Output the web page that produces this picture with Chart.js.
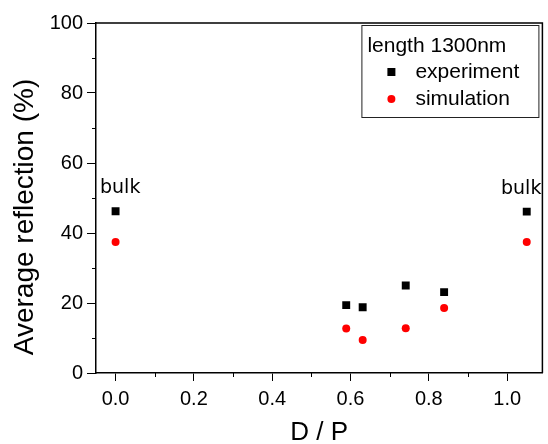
<!DOCTYPE html>
<html lang="en">
<head>
<meta charset="UTF-8">
<title>Average reflection vs D/P</title>
<script src="https://cdn.jsdelivr.net/npm/chart.js"></script>
<style>
  html, body { margin: 0; padding: 0; background: #fff; overflow: hidden; }
</style>
</head>
<body>
<canvas id="grafica" width="548" height="444"></canvas>
<script>
// values
const dpValues = [0, 0.589, 0.631, 0.741, 0.839, 1.05];
const experiment = [46.2, 19.4, 18.8, 25.0, 23.1, 46.1];
const simulation = [37.4, 12.7, 9.4, 12.8, 18.6, 37.4];
const seriesNames = ['experiment', 'simulation'];
const legendTitle = 'length 1300nm';
const yTitle = 'Average reflection (%)';
const bulkIndex = [0, 5];
const bulkText = 'bulk';
const xTicks = [0, 0.1, 0.2, 0.3, 0.4, 0.5, 0.6, 0.7, 0.8, 0.9, 1.0];
const yTicks = [0, 10, 20, 30, 40, 50, 60, 70, 80, 90, 100];

const FONT = "'Liberation Sans', Arial, sans-serif";
const isMajorX = v => Math.round(v * 10) % 2 === 0;
const isMajorY = v => Math.round(v) % 20 === 0;

function pts(ys) {
    return dpValues.map((x, i) => ({ x: x, y: ys[i] }));
}

const extras = {
    id: 'extras',
    afterDraw(chart) {
        const c = chart.ctx;
        const a = chart.chartArea;
        const sx = chart.scales.x, sy = chart.scales.y;
        c.save();
        c.strokeStyle = '#000';
        c.lineWidth = 1.5;
        // top and right frame
        c.beginPath();
        c.moveTo(a.left, a.top);
        c.lineTo(a.right, a.top);
        c.lineTo(a.right, a.bottom);
        c.stroke();

        // minor ticks
        c.lineWidth = 1;
        c.beginPath();
        xTicks.filter(v => !isMajorX(v)).forEach(v => {
            const px = Math.round(sx.getPixelForValue(v)) + 0.5;
            c.moveTo(px, a.bottom);
            c.lineTo(px, a.bottom + 4);
        });
        yTicks.filter(v => !isMajorY(v)).forEach(v => {
            const py = Math.round(sy.getPixelForValue(v)) + 0.5;
            c.moveTo(a.left, py);
            c.lineTo(a.left - 4, py);
        });
        c.stroke();

        // y axis title
        c.fillStyle = '#000';
        c.save();
        c.translate(25, (a.top + a.bottom) / 2 + 19);
        c.rotate(-Math.PI / 2);
        c.font = '28px ' + FONT;
        c.textAlign = 'center';
        c.textBaseline = 'middle';
        c.fillText(yTitle, 0, 0);
        c.restore();

        // "bulk" labels, kept inside the frame
        c.font = "19px 'DejaVu Sans', sans-serif";
        c.textAlign = 'left';
        c.textBaseline = 'alphabetic';
        bulkIndex.forEach(i => {
            const px = sx.getPixelForValue(dpValues[i]);
            const py = sy.getPixelForValue(experiment[i]);
            const w = c.measureText(bulkText).width;
            let left = px - w / 2;
            left = Math.max(left, a.left + 4);
            left = Math.min(left, a.right - 1 - w);
            c.fillText(bulkText, left, py - 18);
        });

        // legend box
        const bx = a.right - 181, by = a.top + 2, bw = 177, bh = 92;
        c.lineWidth = 1;
        c.strokeStyle = '#222';
        c.fillStyle = '#fff';
        c.fillRect(bx, by, bw, bh);
        c.strokeRect(bx + 0.5, by + 0.5, bw, bh);
        c.fillStyle = '#000';
        c.textAlign = 'left';
        c.textBaseline = 'middle';
        c.font = '21px ' + FONT;
        c.fillText(legendTitle, bx + 6, by + 21);
        chart.data.datasets.forEach((ds, k) => {
            const ry = by + 47 + k * 27;
            c.fillStyle = ds.backgroundColor;
            if (ds.pointStyle === 'rect') {
                c.fillRect(bx + 26, ry - 4, 8, 8);
            } else {
                c.beginPath();
                c.arc(bx + 30, ry, 4, 0, Math.PI * 2);
                c.fill();
            }
            c.fillStyle = '#000';
            c.fillText(ds.label, bx + 54, ry);
        });
        c.restore();
    }
};

new Chart(document.getElementById('grafica').getContext('2d'), {
    type: 'scatter',
    data: {
        datasets: [
            {
                label: seriesNames[0],
                data: pts(experiment),
                pointStyle: 'rect',
                pointRadius: 5.6,
                borderWidth: 0,
                backgroundColor: '#000000',
                borderColor: '#000000'
            },
            {
                label: seriesNames[1],
                data: pts(simulation),
                pointStyle: 'circle',
                pointRadius: 4,
                borderWidth: 0,
                backgroundColor: '#ff0000',
                borderColor: '#ff0000'
            }
        ]
    },
    options: {
        responsive: false,
        devicePixelRatio: 1,
        animation: false,
        layout: { padding: { top: 23, right: 1, left: 0, bottom: 0 } },
        plugins: {
            legend: { display: false },
            tooltip: { enabled: false }
        },
        scales: {
            x: {
                type: 'linear',
                min: -0.05,
                max: 1.09,
                afterBuildTicks: s => { s.ticks = xTicks.map(v => ({ value: v })); },
                afterFit: s => { s.height = 71; },
                ticks: {
                    autoSkip: false,
                    maxRotation: 0,
                    padding: 6,
                    color: '#000',
                    font: { family: FONT, size: 20 },
                    callback: v => isMajorX(v) ? v.toFixed(1) : ''
                },
                grid: {
                    drawOnChartArea: false,
                    tickLength: 8,
                    tickWidth: 1,
                    tickColor: ctx => isMajorX(ctx.tick.value) ? '#000' : 'rgba(0,0,0,0)'
                },
                border: { color: '#000', width: 1.5 },
                title: {
                    display: true,
                    text: 'D / P',
                    color: '#000',
                    font: { family: FONT, size: 26, lineHeight: 1 },
                    padding: { top: 0, bottom: -2 }
                }
            },
            y: {
                type: 'linear',
                min: 0,
                max: 100,
                afterBuildTicks: s => { s.ticks = yTicks.map(v => ({ value: v })); },
                afterFit: s => { s.width = 96; },
                ticks: {
                    autoSkip: false,
                    padding: 4,
                    color: '#000',
                    font: { family: FONT, size: 20 },
                    callback: v => isMajorY(v) ? String(v) : ''
                },
                grid: {
                    drawOnChartArea: false,
                    tickLength: 9,
                    tickWidth: 1,
                    tickColor: ctx => isMajorY(ctx.tick.value) ? '#000' : 'rgba(0,0,0,0)'
                },
                border: { color: '#000', width: 1.5 }
            }
        }
    },
    plugins: [extras]
});
</script>
</body>
</html>
